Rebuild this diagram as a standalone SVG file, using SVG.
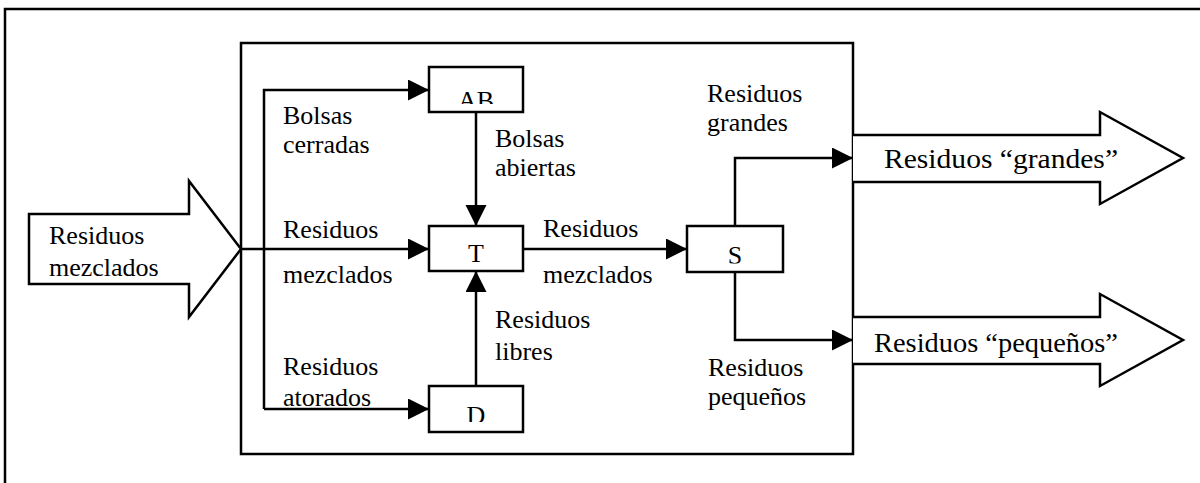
<svg xmlns="http://www.w3.org/2000/svg" width="1200" height="483" viewBox="0 0 1200 483" font-family="'Liberation Serif', 'Times New Roman', serif">
<style>
  .ln{fill:none;stroke:#000;stroke-width:2.5}
  .box{fill:#fff;stroke:#000;stroke-width:2.5}
  .big{fill:#fff;stroke:#000;stroke-width:2.5;stroke-linejoin:miter}
  text{font-family:"Liberation Serif","Times New Roman",serif;font-size:26px;fill:#000}
  .c{text-anchor:middle}
  .bt{font-size:28px}
</style>
<defs>
  <marker id="ah" markerUnits="userSpaceOnUse" markerWidth="22" markerHeight="22" refX="21" refY="10.5" orient="auto">
    <path d="M0,0 L21,10.5 L0,21 z" fill="#000"/>
  </marker>
  <clipPath id="clipAB"><rect x="429" y="67" width="94" height="37"/></clipPath>
  <clipPath id="clipD"><rect x="429" y="386" width="94" height="36"/></clipPath>
  <clipPath id="clipS"><rect x="687" y="226" width="96" height="37.5"/></clipPath>
</defs>
<rect width="1200" height="483" fill="#fff"/>
<path class="ln" d="M5,483 V9 H1200" stroke-width="2"/>
<g id="system"><rect class="ln" x="241" y="43" width="612" height="411"/></g>

<g id="input">
  <path class="big" d="M29,214 H189 V181 L241,249 L189,317 V284 H29 Z"/>
  <text x="49" y="244">Residuos</text>
  <text x="49" y="276">mezclados</text>
</g>

<g id="out-grandes">
  <path class="big" d="M853,135 H1100 V112 L1183,158 L1100,204 V182 H853"/>
  <text class="bt" x="884" y="168" textLength="234" lengthAdjust="spacingAndGlyphs">Residuos “grandes”</text>
</g>
<g id="out-pequenos">
  <path class="big" d="M853,317 H1100 V294 L1183,340 L1100,386 V364 H853"/>
  <text class="bt" x="874" y="352" textLength="244" lengthAdjust="spacingAndGlyphs">Residuos “pequeños”</text>
</g>

<g id="connectors">
  <path class="ln" d="M264,409 V90 H429" marker-end="url(#ah)"/>
  <path class="ln" d="M241,249 H429" marker-end="url(#ah)"/>
  <path class="ln" d="M264,409 H429" marker-end="url(#ah)"/>
  <path class="ln" d="M476,112 V226" marker-end="url(#ah)"/>
  <path class="ln" d="M476,386 V271" marker-end="url(#ah)"/>
  <path class="ln" d="M523,249 H687" marker-end="url(#ah)"/>
  <path class="ln" d="M735,226 V158 H853" marker-end="url(#ah)"/>
  <path class="ln" d="M735,272 V340 H853" marker-end="url(#ah)"/>
</g>

<g id="labels">
  <text x="283" y="124">Bolsas</text>
  <text x="283" y="153">cerradas</text>
  <text x="495" y="147">Bolsas</text>
  <text x="495" y="176">abiertas</text>
  <text x="283" y="238">Residuos</text>
  <text x="283" y="283">mezclados</text>
  <text x="495" y="328">Residuos</text>
  <text x="495" y="360">libres</text>
  <text x="283" y="375">Residuos</text>
  <text x="283" y="406">atorados</text>
  <text x="543" y="237">Residuos</text>
  <text x="543" y="283">mezclados</text>
  <text x="707" y="102">Residuos</text>
  <text x="707" y="131">grandes</text>
  <text x="708" y="376">Residuos</text>
  <text x="708" y="405">pequeños</text>
</g>

<g id="node-AB">
  <rect class="box" x="429" y="67" width="94" height="45"/>
  <text class="c" x="476" y="109" clip-path="url(#clipAB)">AB</text>
</g>
<g id="node-T">
  <rect class="box" x="429" y="226" width="94" height="45"/>
  <text class="c" x="476" y="262">T</text>
</g>
<g id="node-D">
  <rect class="box" x="429" y="386" width="94" height="46"/>
  <text class="c" x="476" y="424" clip-path="url(#clipD)">D</text>
</g>
<g id="node-S">
  <rect class="box" x="687" y="226" width="96" height="46"/>
  <text class="c" x="735" y="264" clip-path="url(#clipS)">S</text>
</g>
</svg>
